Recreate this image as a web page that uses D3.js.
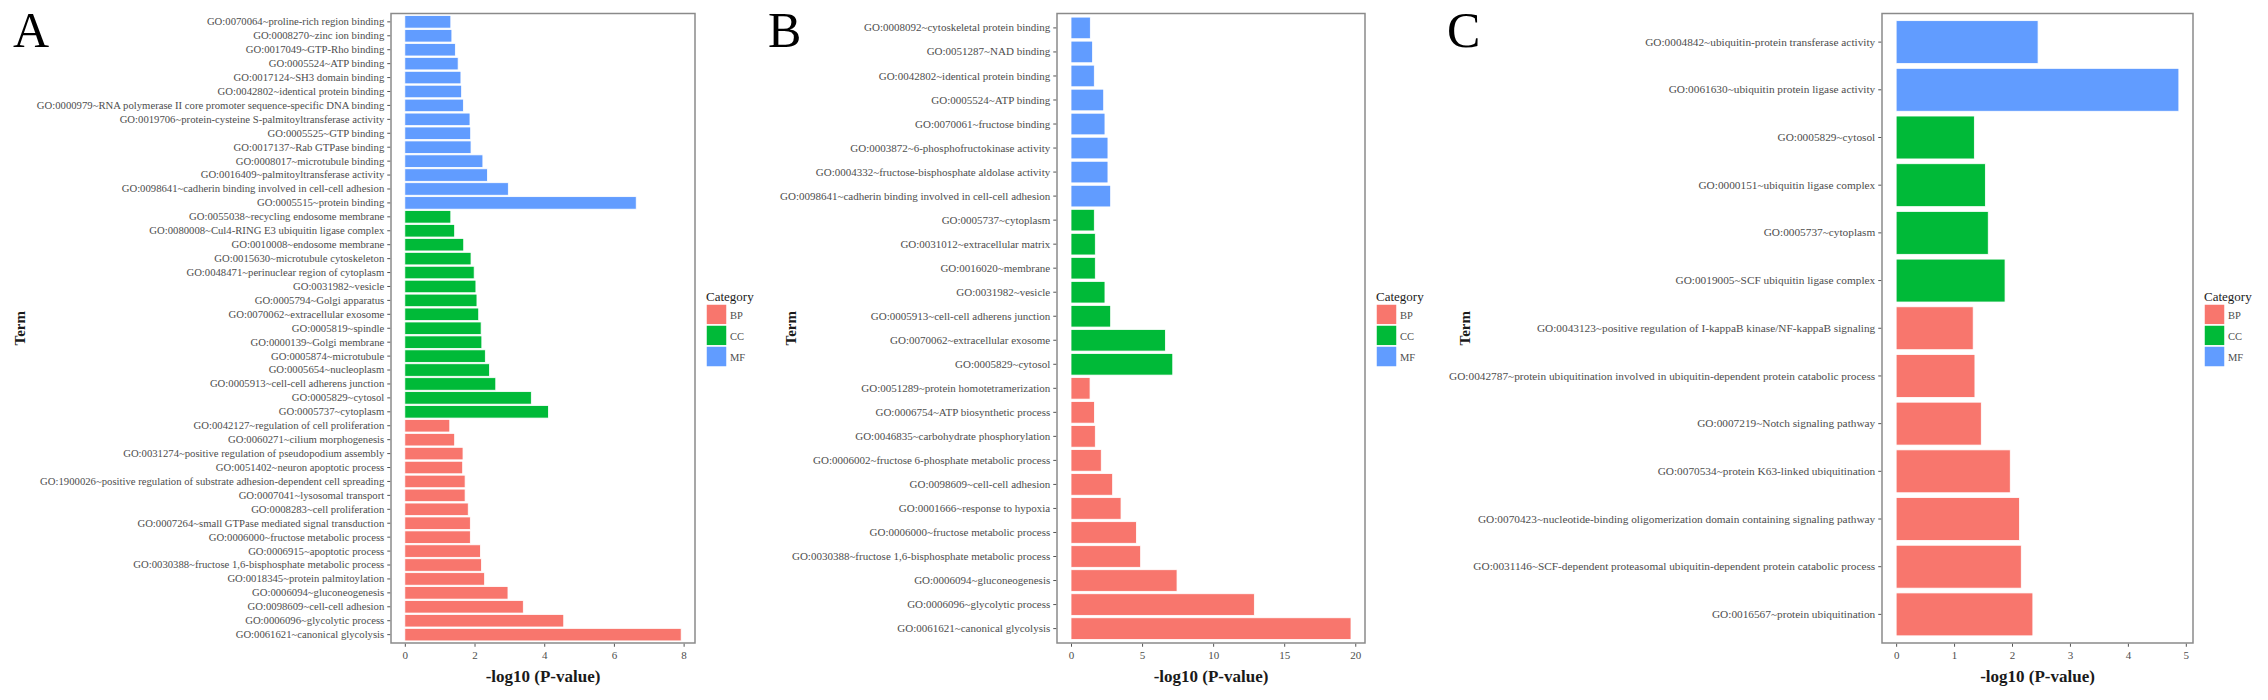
<!DOCTYPE html>
<html>
<head>
<meta charset="utf-8">
<script src="https://cdn.jsdelivr.net/npm/d3@7"></script>
<style>
  html, body { margin: 0; padding: 0; background: #fff; }
  svg { display: block; }
  text { font-family: "Liberation Serif", "Times New Roman", serif; }
</style>
</head>
<body>
<div id="chart"></div>
<script>
// GO enrichment bar charts, three panels (A, B, C).
// Rows are listed top to bottom as they appear in the figure.

const categories = ['BP', 'CC', 'MF'];
const categoryColors = ['#F8766D', '#00BA38', '#619CFF'];

// ----- Panel A -----
const termsA = [
  'GO:0070064~proline-rich region binding',
  'GO:0008270~zinc ion binding',
  'GO:0017049~GTP-Rho binding',
  'GO:0005524~ATP binding',
  'GO:0017124~SH3 domain binding',
  'GO:0042802~identical protein binding',
  'GO:0000979~RNA polymerase II core promoter sequence-specific DNA binding',
  'GO:0019706~protein-cysteine S-palmitoyltransferase activity',
  'GO:0005525~GTP binding',
  'GO:0017137~Rab GTPase binding',
  'GO:0008017~microtubule binding',
  'GO:0016409~palmitoyltransferase activity',
  'GO:0098641~cadherin binding involved in cell-cell adhesion',
  'GO:0005515~protein binding',
  'GO:0055038~recycling endosome membrane',
  'GO:0080008~Cul4-RING E3 ubiquitin ligase complex',
  'GO:0010008~endosome membrane',
  'GO:0015630~microtubule cytoskeleton',
  'GO:0048471~perinuclear region of cytoplasm',
  'GO:0031982~vesicle',
  'GO:0005794~Golgi apparatus',
  'GO:0070062~extracellular exosome',
  'GO:0005819~spindle',
  'GO:0000139~Golgi membrane',
  'GO:0005874~microtubule',
  'GO:0005654~nucleoplasm',
  'GO:0005913~cell-cell adherens junction',
  'GO:0005829~cytosol',
  'GO:0005737~cytoplasm',
  'GO:0042127~regulation of cell proliferation',
  'GO:0060271~cilium morphogenesis',
  'GO:0031274~positive regulation of pseudopodium assembly',
  'GO:0051402~neuron apoptotic process',
  'GO:1900026~positive regulation of substrate adhesion-dependent cell spreading',
  'GO:0007041~lysosomal transport',
  'GO:0008283~cell proliferation',
  'GO:0007264~small GTPase mediated signal transduction',
  'GO:0006000~fructose metabolic process',
  'GO:0006915~apoptotic process',
  'GO:0030388~fructose 1,6-bisphosphate metabolic process',
  'GO:0018345~protein palmitoylation',
  'GO:0006094~gluconeogenesis',
  'GO:0098609~cell-cell adhesion',
  'GO:0006096~glycolytic process',
  'GO:0061621~canonical glycolysis'
];
const valuesA = [
  1.32, 1.35, 1.45, 1.53, 1.61, 1.63, 1.68, 1.87, 1.89, 1.90, 2.24, 2.37, 2.97, 6.64,
  1.32, 1.43, 1.69, 1.90, 1.99, 2.04, 2.07, 2.12, 2.19, 2.21, 2.31, 2.43, 2.61, 3.63, 4.12,
  1.29, 1.43, 1.67, 1.66, 1.73, 1.73, 1.82, 1.88, 1.88, 2.17, 2.20, 2.29, 2.96, 3.40, 4.56, 7.93
];
const catsA = [].concat(
  Array(14).fill('MF'), Array(15).fill('CC'), Array(16).fill('BP'));
const ticksA = [0, 2, 4, 6, 8];

// ----- Panel B -----
const termsB = [
  'GO:0008092~cytoskeletal protein binding',
  'GO:0051287~NAD binding',
  'GO:0042802~identical protein binding',
  'GO:0005524~ATP binding',
  'GO:0070061~fructose binding',
  'GO:0003872~6-phosphofructokinase activity',
  'GO:0004332~fructose-bisphosphate aldolase activity',
  'GO:0098641~cadherin binding involved in cell-cell adhesion',
  'GO:0005737~cytoplasm',
  'GO:0031012~extracellular matrix',
  'GO:0016020~membrane',
  'GO:0031982~vesicle',
  'GO:0005913~cell-cell adherens junction',
  'GO:0070062~extracellular exosome',
  'GO:0005829~cytosol',
  'GO:0051289~protein homotetramerization',
  'GO:0006754~ATP biosynthetic process',
  'GO:0046835~carbohydrate phosphorylation',
  'GO:0006002~fructose 6-phosphate metabolic process',
  'GO:0098609~cell-cell adhesion',
  'GO:0001666~response to hypoxia',
  'GO:0006000~fructose metabolic process',
  'GO:0030388~fructose 1,6-bisphosphate metabolic process',
  'GO:0006094~gluconeogenesis',
  'GO:0006096~glycolytic process',
  'GO:0061621~canonical glycolysis'
];
const valuesB = [
  1.36, 1.52, 1.64, 2.30, 2.39, 2.60, 2.60, 2.79,
  1.64, 1.71, 1.71, 2.39, 2.79, 6.64, 7.16,
  1.34, 1.65, 1.71, 2.13, 2.93, 3.52, 4.60, 4.90, 7.46, 12.9, 19.7
];
const catsB = [].concat(
  Array(8).fill('MF'), Array(7).fill('CC'), Array(11).fill('BP'));
const ticksB = [0, 5, 10, 15, 20];

// ----- Panel C -----
const termsC = [
  'GO:0004842~ubiquitin-protein transferase activity',
  'GO:0061630~ubiquitin protein ligase activity',
  'GO:0005829~cytosol',
  'GO:0000151~ubiquitin ligase complex',
  'GO:0005737~cytoplasm',
  'GO:0019005~SCF ubiquitin ligase complex',
  'GO:0043123~positive regulation of I-kappaB kinase/NF-kappaB signaling',
  'GO:0042787~protein ubiquitination involved in ubiquitin-dependent protein catabolic process',
  'GO:0007219~Notch signaling pathway',
  'GO:0070534~protein K63-linked ubiquitination',
  'GO:0070423~nucleotide-binding oligomerization domain containing signaling pathway',
  'GO:0031146~SCF-dependent proteasomal ubiquitin-dependent protein catabolic process',
  'GO:0016567~protein ubiquitination'
];
const valuesC = [2.45, 4.88, 1.35, 1.54, 1.59, 1.88, 1.33, 1.36, 1.47, 1.97, 2.13, 2.16, 2.36];
const catsC = [].concat(Array(2).fill('MF'), Array(4).fill('CC'), Array(7).fill('BP'));
const ticksC = [0, 1, 2, 3, 4, 5];

// Panel placement: letter position, plot frame, "Term" title x, label size.
const panels = [
  { letter: 'A', letterX: 13, left: 391, right: 695, termX: 25, labelSize: 10.7,
    terms: termsA, values: valuesA, cats: catsA, ticks: ticksA },
  { letter: 'B', letterX: 768, left: 1057, right: 1365, termX: 796, labelSize: 11,
    terms: termsB, values: valuesB, cats: catsB, ticks: ticksB },
  { letter: 'C', letterX: 1447, left: 1882, right: 2193, termX: 1470, labelSize: 11.3,
    terms: termsC, values: valuesC, cats: catsC, ticks: ticksC }
];

const W = 2268, H = 700;
const plotTop = 13.5, plotBottom = 643;

const color = d3.scaleOrdinal().domain(categories).range(categoryColors);

const svg = d3.select('#chart').append('svg')
  .attr('width', W).attr('height', H)
  .attr('viewBox', `0 0 ${W} ${H}`);
svg.append('rect').attr('width', W).attr('height', H).attr('fill', '#fff');

function drawPanel(p) {
  const g = svg.append('g');
  const rows = p.terms.map((t, i) => ({ term: t, value: p.values[i], cat: p.cats[i] }));
  const maxV = d3.max(p.values);

  // ggplot-style expansion: 5% on the continuous axis, 0.6 units on the discrete one.
  const x = d3.scaleLinear().domain([-0.05 * maxV, 1.05 * maxV]).range([p.left, p.right]);
  const y = d3.scaleBand().domain(p.terms.map((t, i) => i))
    .range([plotTop, plotBottom]).paddingInner(0.1).paddingOuter(0.15);

  g.selectAll('rect.bar').data(rows).enter().append('rect')
    .attr('class', 'bar')
    .attr('x', x(0))
    .attr('y', (d, i) => y(i))
    .attr('width', d => x(d.value) - x(0))
    .attr('height', y.bandwidth())
    .attr('fill', d => color(d.cat))
    .attr('stroke', '#fff')
    .attr('stroke-width', 0.8);

  // Frame
  g.append('rect')
    .attr('x', p.left).attr('y', plotTop)
    .attr('width', p.right - p.left).attr('height', plotBottom - plotTop)
    .attr('fill', 'none').attr('stroke', '#8a8a8a').attr('stroke-width', 1.5);

  // Y axis (term labels)
  const yAxis = g.append('g')
    .attr('transform', `translate(${p.left - 0.75},0)`)
    .call(d3.axisLeft(y).tickSize(3).tickPadding(3).tickFormat(i => p.terms[i]));
  yAxis.select('.domain').remove();
  yAxis.selectAll('line').attr('stroke', '#555');
  yAxis.selectAll('text')
    .attr('fill', '#4d4d4d')
    .style('font-size', p.labelSize + 'px')
    .style('font-family', '"Liberation Serif", "Times New Roman", serif');

  // X axis
  const xAxis = g.append('g')
    .attr('transform', `translate(0,${plotBottom + 0.75})`)
    .call(d3.axisBottom(x).tickValues(p.ticks).tickSize(3).tickPadding(4).tickFormat(d3.format('d')));
  xAxis.select('.domain').remove();
  xAxis.selectAll('line').attr('stroke', '#555');
  xAxis.selectAll('text')
    .attr('fill', '#4d4d4d')
    .style('font-size', '11px')
    .style('font-family', '"Liberation Serif", "Times New Roman", serif');

  // Axis titles
  g.append('text')
    .attr('x', (p.left + p.right) / 2).attr('y', 682)
    .attr('text-anchor', 'middle')
    .style('font-size', '17px').style('font-weight', 'bold')
    .attr('fill', '#1a1a1a')
    .text('-log10 (P-value)');

  g.append('text')
    .attr('transform', `translate(${p.termX},${(plotTop + plotBottom) / 2}) rotate(-90)`)
    .attr('text-anchor', 'middle')
    .style('font-size', '15px').style('font-weight', 'bold')
    .attr('fill', '#1a1a1a')
    .text('Term');

  // Panel letter
  g.append('text')
    .attr('x', p.letterX).attr('y', 47)
    .style('font-size', '50px')
    .attr('fill', '#000')
    .text(p.letter);

  // Legend
  const lx = p.right + 11, ly = 290;
  const legend = g.append('g').attr('transform', `translate(${lx},${ly})`);
  legend.append('text')
    .attr('x', 0).attr('y', 11)
    .style('font-size', '13px')
    .attr('fill', '#1a1a1a')
    .text('Category');
  const item = legend.selectAll('g.item').data(categories).enter().append('g')
    .attr('class', 'item')
    .attr('transform', (d, i) => `translate(0,${14 + i * 21})`);
  item.append('rect')
    .attr('width', 21).attr('height', 21)
    .attr('fill', d => color(d))
    .attr('stroke', '#fff').attr('stroke-width', 1.5);
  item.append('text')
    .attr('x', 24).attr('y', 14.5)
    .style('font-size', '10.5px')
    .attr('fill', '#4d4d4d')
    .text(d => d);
}

panels.forEach(drawPanel);
</script>
</body>
</html>
